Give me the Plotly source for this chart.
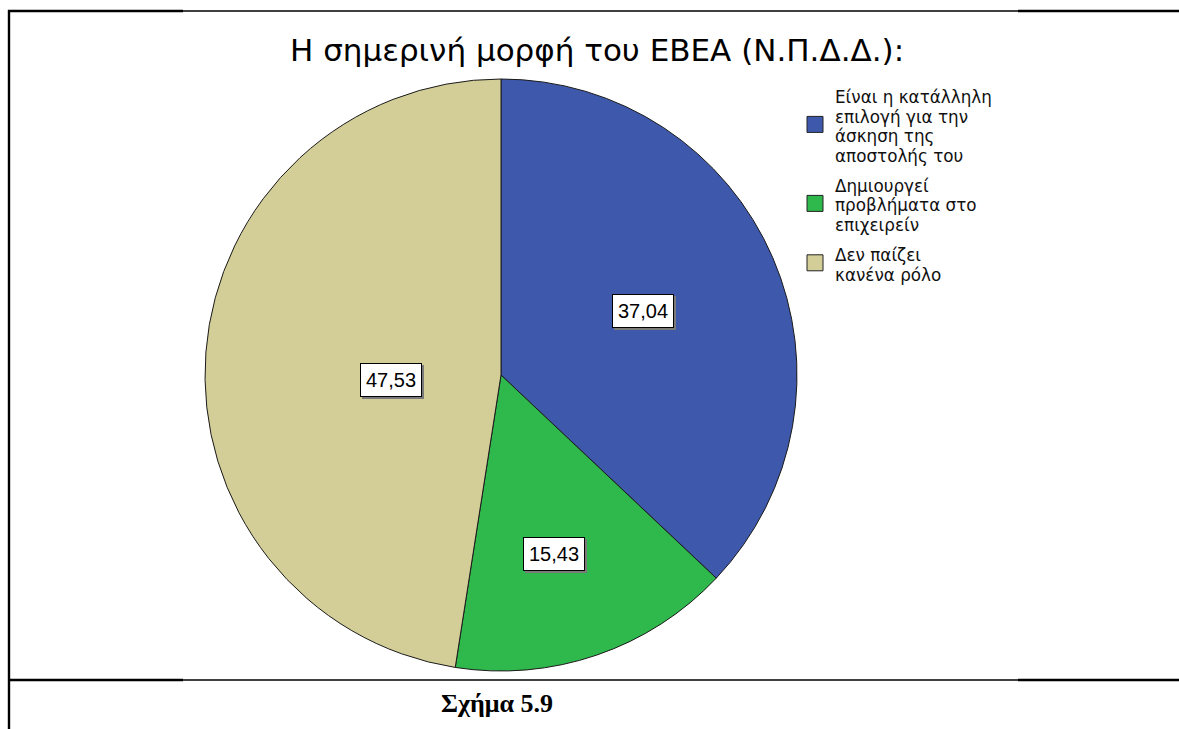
import math
import plotly.graph_objects as go

# ---- data ----
categories = [
    "Είναι η κατάλληλη<br>επιλογή για την<br>άσκηση της<br>αποστολής του",
    "Δημιουργεί<br>προβλήματα στο<br>επιχειρείν",
    "Δεν παίζει<br>κανένα ρόλο",
]
values = [37.04, 15.43, 47.53]
title_text = "Η σημερινή μορφή του ΕΒΕΑ (Ν.Π.Δ.Δ.):"
caption_text = "Σχήμα 5.9"

# ---- style ----
colors = ["#3E58AC", "#2FB84C", "#D3CE98"]
label_radius = [0.525, 0.685, 0.475]
label_angle_shift = [-0.8, 3.8, -6.6]

W, H = 1179, 729


def px(x):
    return x / W


def py(y):
    return 1 - y / H


cx, cy, R = 501, 375, 296

fig = go.Figure(
    go.Pie(
        labels=[c.replace("<br>", " ") for c in categories],
        values=values,
        sort=False,
        direction="clockwise",
        rotation=0,
        marker=dict(colors=colors, line=dict(color="#1a1a1a", width=1)),
        textinfo="none",
        hoverinfo="label+value",
        showlegend=False,
        domain=dict(x=[px(cx - R), px(cx + R)], y=[py(cy + R), py(cy - R)]),
    )
)

annotations = []
shapes = []

# value labels (boxes)
total = sum(values)
cum = 0.0
for i, v in enumerate(values):
    mid = (cum + v / 2) / total * 360 + label_angle_shift[i]
    cum += v
    r = label_radius[i] * R
    lx = cx + r * math.sin(math.radians(mid))
    ly = cy - r * math.cos(math.radians(mid))
    txt = f"{v:.2f}".replace(".", ",")
    common = dict(x=px(lx), y=py(ly), xref="paper", yref="paper", text=txt,
                  showarrow=False, borderpad=5, borderwidth=1)
    annotations.append(dict(common, xshift=2, yshift=-2, bgcolor="#7a7a7a",
                            bordercolor="#7a7a7a",
                            font=dict(family="Liberation Sans", size=20, color="#7a7a7a")))
    annotations.append(dict(common, bgcolor="white", bordercolor="black",
                            font=dict(family="Liberation Sans", size=20, color="black")))

# legend (manual)
leg_x_sq = 807
leg_x_txt = 833
pitch = 19.6
y_line = 97
for i, cat in enumerate(categories):
    lines = cat.split("<br>")
    ys = []
    for ln in lines:
        annotations.append(dict(x=px(leg_x_txt), y=py(y_line), xref="paper", yref="paper",
                                text=ln, showarrow=False, xanchor="left", yanchor="middle",
                                font=dict(family="DejaVu Sans", size=16.8, color="#111")))
        ys.append(y_line)
        y_line += pitch
    y_line += 30 - pitch
    yc = (ys[0] + ys[-1]) / 2 - 2
    shapes.append(dict(type="rect", xref="paper", yref="paper",
                       x0=px(leg_x_sq), x1=px(leg_x_sq + 16), y0=py(yc + 8), y1=py(yc - 8),
                       fillcolor=colors[i], line=dict(color="#222", width=1)))

# title
annotations.append(dict(x=px(597), y=py(50), xref="paper", yref="paper", text=title_text,
                        showarrow=False, xanchor="center", yanchor="middle",
                        font=dict(family="DejaVu Sans", size=31, color="black")))
# caption
annotations.append(dict(x=px(497), y=py(703), xref="paper", yref="paper",
                        text="<b>" + caption_text + "</b>",
                        showarrow=False, xanchor="center", yanchor="middle",
                        font=dict(family="Liberation Serif", size=26, color="black")))

# table borders


def hline(x0, x1, y, w):
    shapes.append(dict(type="line", xref="paper", yref="paper", x0=px(x0), x1=px(x1),
                       y0=py(y), y1=py(y), line=dict(color="black", width=w)))


for yy in (11, 680):
    hline(8, 183, yy, 2.6)
    hline(183, 1018, yy, 1.5)
    hline(1018, 1179, yy, 2.6)
shapes.append(dict(type="line", xref="paper", yref="paper", x0=px(9), x1=px(9),
                   y0=py(10), y1=0, line=dict(color="black", width=2.4)))

fig.update_layout(
    width=W, height=H,
    margin=dict(l=0, r=0, t=0, b=0),
    paper_bgcolor="white", plot_bgcolor="white",
    annotations=annotations, shapes=shapes,
    showlegend=False,
)

fig.write_html("out.html", config={"displayModeBar": False},
               post_script="document.body.style.margin='0';")
